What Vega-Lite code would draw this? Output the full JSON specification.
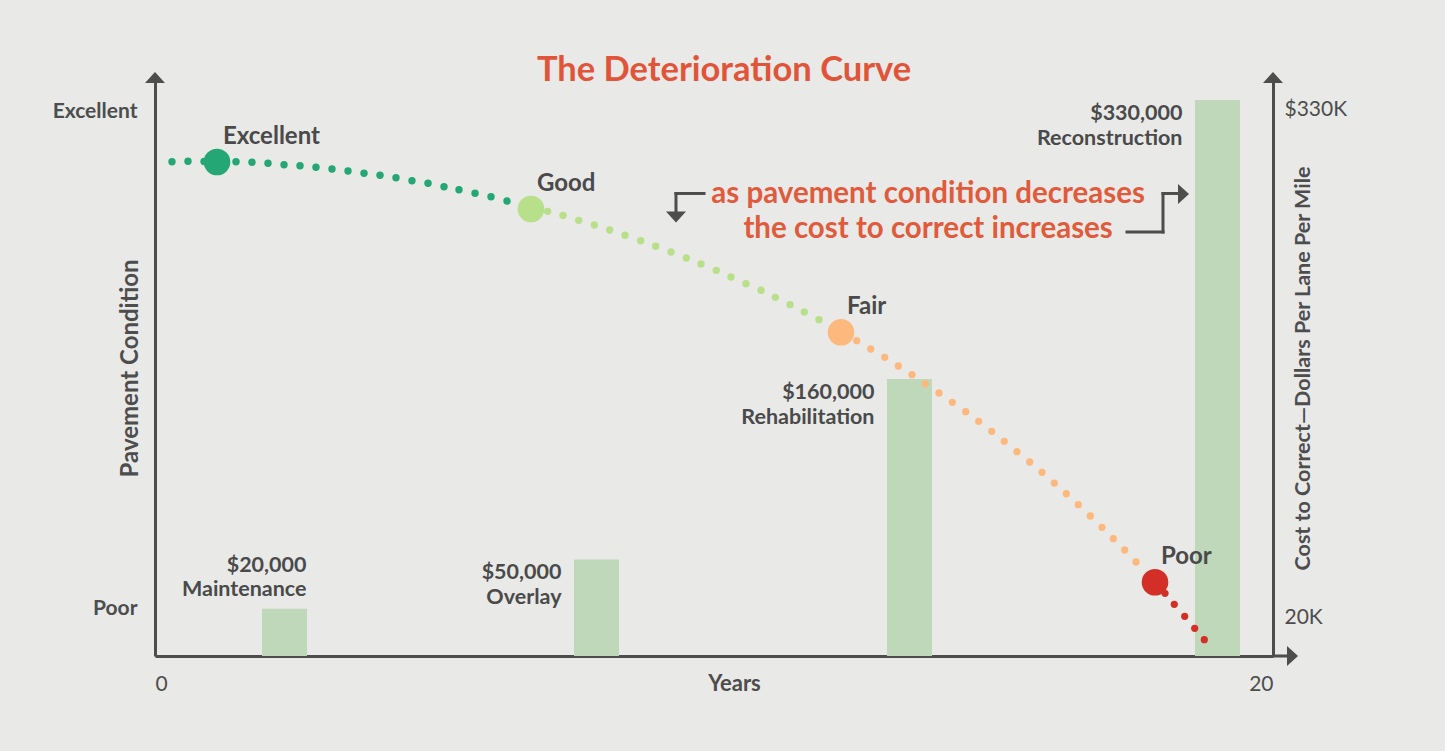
{
  "$schema": "https://vega.github.io/schema/vega-lite/v6.json",
  "width": 1118,
  "height": 576,
  "autosize": "none",
  "padding": {"left": 155, "top": 80, "right": 172, "bottom": 95},
  "background": "#e9e9e7",
  "config": {
    "view": {"stroke": null},
    "font": "Lato",
    "axis": {"domainColor": "#4d4d4d", "domainWidth": 3, "ticks": false, "grid": false, "labelColor": "#4d4d4d", "titleColor": "#4d4d4d", "labelFont": "Lato", "titleFont": "Lato"}
  },
  "title": {"text": "The Deterioration Curve", "font": "Lato", "fontSize": 34.5, "fontWeight": "bold", "color": "#e0553a", "anchor": "middle", "dx": 10, "dy": 44, "baseline": "alphabetic", "offset": 1},
  "data": {"values": [{}]},
  "datasets": {
    "bars": [
      {"year": 2.317, "cost": 20000, "amount": "$20,000", "name": "Maintenance"},
      {"year": 7.898, "cost": 50000, "amount": "$50,000", "name": "Overlay"},
      {"year": 13.497, "cost": 160000, "amount": "$160,000", "name": "Rehabilitation"},
      {"year": 19.007, "cost": 330000, "amount": "$330,000", "name": "Reconstruction"}
    ],
    "stages": [
      {"stage": "Excellent", "year": 1.109, "cond": 85.76},
      {"stage": "Good", "year": 6.726, "cond": 77.6},
      {"stage": "Fair", "year": 12.272, "cond": 56.2},
      {"stage": "Poor", "year": 17.889, "cond": 12.8}
    ],
    "dots": [
      {"seg": "a", "year": 0.304, "cond": 85.82}, {"seg": "a", "year": 0.59, "cond": 85.88}, {"seg": "a", "year": 0.877, "cond": 85.85},
      {"seg": "a", "year": 1.449, "cond": 85.82}, {"seg": "a", "year": 1.735, "cond": 85.71}, {"seg": "a", "year": 2.021, "cond": 85.54},
      {"seg": "a", "year": 2.308, "cond": 85.3}, {"seg": "a", "year": 2.594, "cond": 85.12}, {"seg": "a", "year": 2.88, "cond": 84.84},
      {"seg": "a", "year": 3.166, "cond": 84.55}, {"seg": "a", "year": 3.453, "cond": 84.2}, {"seg": "a", "year": 3.739, "cond": 83.8},
      {"seg": "a", "year": 4.025, "cond": 83.45}, {"seg": "a", "year": 4.311, "cond": 83.04}, {"seg": "a", "year": 4.597, "cond": 82.52},
      {"seg": "a", "year": 4.884, "cond": 82.07}, {"seg": "a", "year": 5.17, "cond": 81.48}, {"seg": "a", "year": 5.438, "cond": 80.95},
      {"seg": "a", "year": 5.725, "cond": 80.33}, {"seg": "a", "year": 6.011, "cond": 79.74}, {"seg": "a", "year": 6.297, "cond": 78.99},
      {"seg": "b", "year": 7.025, "cond": 77.2}, {"seg": "b", "year": 7.299, "cond": 76.51}, {"seg": "b", "year": 7.58, "cond": 75.64},
      {"seg": "b", "year": 7.859, "cond": 74.83}, {"seg": "b", "year": 8.134, "cond": 73.96}, {"seg": "b", "year": 8.408, "cond": 73.04},
      {"seg": "b", "year": 8.689, "cond": 72.1}, {"seg": "b", "year": 8.957, "cond": 71.13}, {"seg": "b", "year": 9.231, "cond": 70.14},
      {"seg": "b", "year": 9.504, "cond": 69.1}, {"seg": "b", "year": 9.767, "cond": 68.06}, {"seg": "b", "year": 10.041, "cond": 66.96},
      {"seg": "b", "year": 10.304, "cond": 65.8}, {"seg": "b", "year": 10.572, "cond": 64.64}, {"seg": "b", "year": 10.841, "cond": 63.49},
      {"seg": "b", "year": 11.097, "cond": 62.27}, {"seg": "b", "year": 11.36, "cond": 60.99}, {"seg": "b", "year": 11.615, "cond": 59.72},
      {"seg": "b", "year": 11.878, "cond": 58.39},
      {"seg": "c", "year": 12.553, "cond": 54.74}, {"seg": "c", "year": 12.803, "cond": 53.3}, {"seg": "c", "year": 13.054, "cond": 51.86},
      {"seg": "c", "year": 13.297, "cond": 50.35}, {"seg": "c", "year": 13.542, "cond": 48.84}, {"seg": "c", "year": 13.78, "cond": 47.27},
      {"seg": "c", "year": 14.025, "cond": 45.66}, {"seg": "c", "year": 14.263, "cond": 44.05}, {"seg": "c", "year": 14.503, "cond": 42.41},
      {"seg": "c", "year": 14.735, "cond": 40.75}, {"seg": "c", "year": 14.968, "cond": 39.01}, {"seg": "c", "year": 15.193, "cond": 37.27},
      {"seg": "c", "year": 15.42, "cond": 35.47}, {"seg": "c", "year": 15.648, "cond": 33.68}, {"seg": "c", "year": 15.868, "cond": 31.89},
      {"seg": "c", "year": 16.088, "cond": 30.03}, {"seg": "c", "year": 16.302, "cond": 28.18}, {"seg": "c", "year": 16.517, "cond": 26.27},
      {"seg": "c", "year": 16.732, "cond": 24.31}, {"seg": "c", "year": 16.941, "cond": 22.34}, {"seg": "c", "year": 17.143, "cond": 20.36},
      {"seg": "c", "year": 17.347, "cond": 18.4}, {"seg": "c", "year": 17.549, "cond": 16.32},
      {"seg": "d", "year": 18.068, "cond": 10.89}, {"seg": "d", "year": 18.234, "cond": 8.98}, {"seg": "d", "year": 18.42, "cond": 6.89},
      {"seg": "d", "year": 18.599, "cond": 4.81}, {"seg": "d", "year": 18.771, "cond": 2.83}
    ]
  },
  "layer": [
    {
      "data": {"name": "bars"},
      "encoding": {
        "x": {"field": "year", "type": "quantitative", "scale": {"domain": [0, 20], "nice": false, "padding": 0},
          "axis": {"values": [0, 20], "title": "Years", "labelFlush": true, "labelFontSize": 21, "labelPadding": 17, "labelBaseline": "top",
            "titleFontSize": 22, "titleFontWeight": "bold", "titleX": 579, "titleY": 27, "titleBaseline": "middle", "titleAnchor": "middle"}},
        "y": {"field": "cost", "type": "quantitative", "stack": null, "scale": {"domain": [-8870, 342200], "zero": false, "nice": false},
          "axis": {"orient": "right", "values": [20000, 330000], "labelExpr": "datum.value == 330000 ? '$330K' : '20K'",
            "labelFontSize": 21, "labelPadding": 11, "labelOffset": 9,
            "title": "Cost to Correct—Dollars Per Lane Per Mile", "titleFontSize": 21.5, "titleFontWeight": "bold",
            "titleAngle": 270, "titleX": 30, "titleBaseline": "middle", "titleAlign": "center"}}
      },
      "layer": [
        {"mark": {"type": "bar", "width": 45, "color": "#bfd8ba"}, "encoding": {"y2": {"value": "height"}}},
        {"transform": [{"filter": "datum.name != 'Maintenance'"}],
          "mark": {"type": "text", "align": "right", "baseline": "middle", "dx": -35, "dy": 14, "fontSize": 21.5, "fontWeight": "bold", "color": "#4a4a4a"},
          "encoding": {"text": {"field": "amount"}}},
        {"transform": [{"filter": "datum.name != 'Maintenance'"}],
          "mark": {"type": "text", "align": "right", "baseline": "middle", "dx": -35, "dy": 39, "fontSize": 21.5, "fontWeight": "bold", "color": "#4a4a4a"},
          "encoding": {"text": {"field": "name"}}},
        {"transform": [{"filter": "datum.name == 'Maintenance'"}],
          "mark": {"type": "text", "align": "right", "baseline": "middle", "dx": 22, "dy": -43, "fontSize": 21.5, "fontWeight": "bold", "color": "#4a4a4a"},
          "encoding": {"text": {"field": "amount"}}},
        {"transform": [{"filter": "datum.name == 'Maintenance'"}],
          "mark": {"type": "text", "align": "right", "baseline": "middle", "dx": 22, "dy": -19, "fontSize": 21.5, "fontWeight": "bold", "color": "#4a4a4a"},
          "encoding": {"text": {"field": "name"}}}
      ]
    },
    {
      "layer": [
        {
          "data": {"name": "dots"},
          "mark": {"type": "point", "filled": true, "opacity": 1, "shape": "circle"},
          "encoding": {
            "x": {"field": "year", "type": "quantitative"},
            "y": {"field": "cond", "type": "quantitative", "scale": {"domain": [0, 100], "nice": false, "zero": false},
              "axis": {"orient": "left", "values": [8.2, 94.6], "labelExpr": "datum.value > 50 ? 'Excellent' : 'Poor'",
                "labelFontSize": 21, "labelFontWeight": "bold", "labelPadding": 18, "title": "Pavement Condition", "titleFontSize": 24, "titleFontWeight": "bold",
                "titleAngle": 270, "titleX": -25, "titleBaseline": "middle", "titleAlign": "center"}},
            "color": {"field": "seg", "type": "nominal", "scale": {"domain": ["a", "b", "c", "d"], "range": ["#24a675", "#b8e08a", "#fdb97d", "#d32f27"]}, "legend": null},
            "size": {"field": "seg", "type": "nominal", "scale": {"domain": ["a", "b", "c", "d"], "range": [55, 52, 52, 42]}, "legend": null}
          }
        },
        {
          "data": {"name": "stages"},
          "mark": {"type": "point", "filled": true, "opacity": 1, "shape": "circle", "size": 707},
          "encoding": {
            "x": {"field": "year", "type": "quantitative"},
            "y": {"field": "cond", "type": "quantitative"},
            "color": {"field": "stage", "type": "nominal", "scale": {"domain": ["Excellent", "Good", "Fair", "Poor"], "range": ["#4aaa68", "#b8e08a", "#fdb97d", "#d22e26"]}, "legend": null}
          }
        },
        {
          "data": {"name": "stages"},
          "mark": {"type": "text", "align": "left", "baseline": "middle", "dx": 6, "dy": -25, "fontSize": 24, "fontWeight": "bold", "color": "#4a4a4a"},
          "encoding": {
            "x": {"field": "year", "type": "quantitative"},
            "y": {"field": "cond", "type": "quantitative"},
            "text": {"field": "stage"}
          }
        },
        {
          "mark": {"type": "text", "align": "center", "baseline": "middle", "fontSize": 29.5, "fontWeight": "bold", "color": "#e05a3c", "lineHeight": 35},
          "encoding": {
            "x": {"datum": 13.83},
            "y": {"datum": 80.2},
            "text": {"value": ["as pavement condition decreases", "the cost to correct increases"]}
          }
        },
        {"mark": {"type": "rule", "color": "#4d4d4d", "strokeWidth": 3},
          "encoding": {"x": {"datum": 20}, "x2": {"datum": 20.3}, "y": {"datum": 0}}},
        {"mark": {"type": "rule", "color": "#4d4d4d", "strokeWidth": 3, "strokeCap": "square"},
          "encoding": {"x": {"datum": 9.32}, "x2": {"datum": 9.821}, "y": {"datum": 80.3}}},
        {"mark": {"type": "rule", "color": "#4d4d4d", "strokeWidth": 3, "strokeCap": "square"},
          "encoding": {"x": {"datum": 9.32}, "y": {"datum": 80.3}, "y2": {"datum": 77.3}}},
        {"mark": {"type": "rule", "color": "#4d4d4d", "strokeWidth": 3, "strokeCap": "square"},
          "encoding": {"x": {"datum": 17.388}, "x2": {"datum": 18.032}, "y": {"datum": 73.61}}},
        {"mark": {"type": "rule", "color": "#4d4d4d", "strokeWidth": 3, "strokeCap": "square"},
          "encoding": {"x": {"datum": 18.032}, "y": {"datum": 73.61}, "y2": {"datum": 80.3}}},
        {"mark": {"type": "rule", "color": "#4d4d4d", "strokeWidth": 3, "strokeCap": "square"},
          "encoding": {"x": {"datum": 18.032}, "x2": {"datum": 18.3}, "y": {"datum": 80.3}}},
        {"mark": {"type": "point", "filled": true, "opacity": 1, "color": "#4d4d4d", "size": 400, "shape": "M-1,0.55L0,-0.55L1,0.55Z"},
          "encoding": {"x": {"datum": 0}, "y": {"datum": 100.43}}},
        {"mark": {"type": "point", "filled": true, "opacity": 1, "color": "#4d4d4d", "size": 400, "shape": "M-1,0.55L0,-0.55L1,0.55Z"},
          "encoding": {"x": {"datum": 20}, "y": {"datum": 100.43}}},
        {"mark": {"type": "point", "filled": true, "opacity": 1, "color": "#4d4d4d", "size": 400, "shape": "M-0.55,-1L0.55,0L-0.55,1Z"},
          "encoding": {"x": {"datum": 20.349}, "y": {"datum": 0}}},
        {"mark": {"type": "point", "filled": true, "opacity": 1, "color": "#4d4d4d", "size": 400, "shape": "M-0.55,-1L0.55,0L-0.55,1Z"},
          "encoding": {"x": {"datum": 18.399}, "y": {"datum": 80.21}}},
        {"mark": {"type": "point", "filled": true, "opacity": 1, "color": "#4d4d4d", "size": 400, "shape": "M-1,-0.55L1,-0.55L0,0.55Z"},
          "encoding": {"x": {"datum": 9.32}, "y": {"datum": 76.22}}}
      ]
    }
  ],
  "resolve": {"scale": {"y": "independent"}, "axis": {"y": "independent"}}
}
